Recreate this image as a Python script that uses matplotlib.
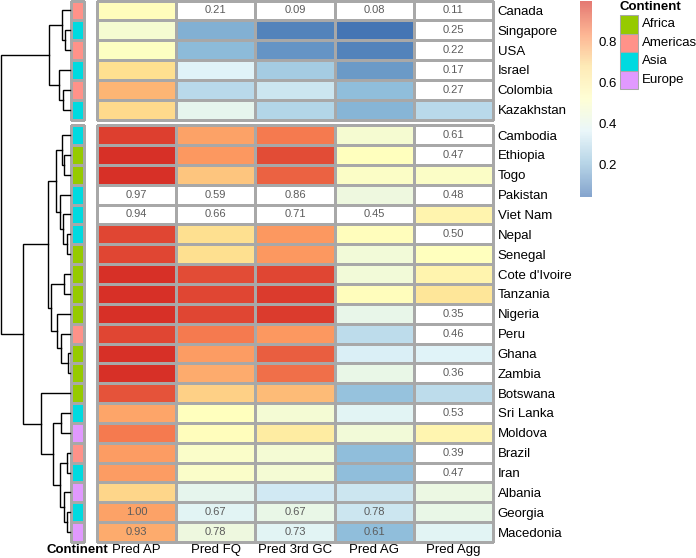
import numpy as np
import matplotlib
matplotlib.use("Agg")
import matplotlib.pyplot as plt
from matplotlib.colors import LinearSegmentedColormap, ListedColormap
from matplotlib.patches import Rectangle

plt.rcParams['font.family'] = ['Liberation Sans', 'DejaVu Sans']

nan = np.nan

countries = ["Canada", "Singapore", "USA", "Israel", "Colombia", "Kazakhstan",
             "Cambodia", "Ethiopia", "Togo", "Pakistan", "Viet Nam", "Nepal",
             "Senegal", "Cote d'Ivoire", "Tanzania", "Nigeria", "Peru", "Ghana",
             "Zambia", "Botswana", "Sri Lanka", "Moldova", "Brazil", "Iran",
             "Albania", "Georgia", "Macedonia"]
continent = ["Americas", "Asia", "Americas", "Asia", "Americas", "Asia",
             "Asia", "Africa", "Africa", "Asia", "Asia", "Asia",
             "Africa", "Africa", "Africa", "Africa", "Americas", "Africa",
             "Africa", "Africa", "Asia", "Europe", "Americas", "Asia",
             "Europe", "Asia", "Europe"]
columns = ["Pred AP", "Pred FQ", "Pred 3rd GC", "Pred AG", "Pred Agg"]

# colour values (nan = white cell)
pred_ap = [0.53, 0.47, 0.51, 0.68, 0.76, 0.69, 0.97, 1.00, 1.00, nan, nan, 0.96, 0.96,
           1.00, 1.00, 1.00, 0.96, 1.00, 1.00, 0.94, 0.79, 0.87, 0.81, 0.81, 0.70, 0.80, 0.78]
pred_fq = [nan, 0.17, 0.19, 0.36, 0.28, 0.39, 0.80, 0.82, 0.73, nan, nan, 0.68, 0.68,
           0.95, 0.96, 0.96, 0.87, 0.81, 0.78, 0.71, 0.52, 0.53, 0.49, 0.49, 0.39, 0.37, 0.43]
pred_gc = [nan, 0.07, 0.11, 0.24, 0.32, 0.27, 0.87, 0.95, 0.91, nan, nan, 0.82, 0.82,
           0.96, 0.98, 0.98, 0.82, 0.92, 0.89, 0.75, 0.46, 0.62, 0.46, 0.46, 0.33, 0.41, 0.37]
pred_ag = [nan, 0.04, 0.07, 0.12, 0.20, 0.18, 0.47, 0.52, 0.50, 0.43, nan, 0.53, 0.45,
           0.45, 0.53, 0.40, 0.29, 0.35, 0.41, 0.21, 0.37, 0.45, 0.20, 0.20, 0.32, 0.32, 0.20]
pred_agg = [nan, nan, nan, nan, nan, 0.28, nan, nan, 0.50, nan, 0.58, nan, 0.52,
            0.58, 0.65, nan, nan, 0.36, nan, 0.29, nan, 0.57, nan, nan, 0.42, 0.41, 0.37]

# numbers printed in cells
lab_ap = ["", "", "", "", "", "", "", "", "", "0.97", "0.94", "", "", "", "", "", "", "", "",
          "", "", "", "", "", "", "1.00", "0.93"]
lab_fq = ["0.21", "", "", "", "", "", "", "", "", "0.59", "0.66", "", "", "", "", "", "", "",
          "", "", "", "", "", "", "", "0.67", "0.78"]
lab_gc = ["0.09", "", "", "", "", "", "", "", "", "0.86", "0.71", "", "", "", "", "", "", "",
          "", "", "", "", "", "", "", "0.67", "0.73"]
lab_ag = ["0.08", "", "", "", "", "", "", "", "", "", "0.45", "", "", "", "", "", "", "", "",
          "", "", "", "", "", "", "0.78", "0.61"]
lab_agg = ["0.11", "0.25", "0.22", "0.17", "0.27", "", "0.61", "0.47", "", "0.48", "", "0.50",
           "", "", "", "0.35", "0.46", "", "0.36", "", "0.53", "", "0.39", "0.47", "", "", ""]

# row clustering: (left, right, height); ints refer to earlier merges
merges = [
    ("Singapore", "USA", 5.0),
    ("Canada", 0, 8.3),
    ("Colombia", "Kazakhstan", 7.0),
    ("Israel", 2, 11.0),
    (1, 3, 21.0),
    ("Ethiopia", "Togo", 5.7),
    ("Cambodia", 5, 8.3),
    ("Nepal", "Senegal", 3.3),
    ("Viet Nam", 7, 6.7),
    ("Pakistan", 8, 10.0),
    (6, 9, 14.3),
    ("Cote d'Ivoire", "Tanzania", 5.7),
    ("Ghana", "Zambia", 1.7),
    ("Peru", 12, 9.3),
    ("Nigeria", 13, 12.7),
    (11, 14, 19.3),
    (10, 15, 21.7),
    ("Sri Lanka", "Moldova", 9.0),
    ("Brazil", "Iran", 3.3),
    ("Georgia", "Macedonia", 3.0),
    ("Albania", 19, 6.0),
    (18, 20, 10.0),
    (17, 21, 17.3),
    ("Botswana", 22, 29.0),
    (16, 23, 46.7),
    (4, 24, 69.0),
]
n_top = 6

cont_colors = {"Africa": "#96CA00", "Americas": "#FF9289", "Asia": "#00DAE0", "Europe": "#E199FF"}

W, H = 696, 558
fig = plt.figure(figsize=(W / 100, H / 100), dpi=100)


def px_box(x0, y0, x1, y1):
    return [x0 / W, 1 - y1 / H, (x1 - x0) / W, (y1 - y0) / H]


cmap = LinearSegmentedColormap.from_list(
    "rdylbu", ["#4575B4", "#91BFDB", "#E0F3F8", "#FFFFBF", "#FEE090", "#FC8D59", "#D73027"])
cmap.set_bad("white")
vmin, vmax = 0.04, 1.0

gap = 0.28
n = len(countries)
total = n + gap
row_off = np.array([0.0 if i < n_top else gap for i in range(n)])
centers = np.arange(n) + 0.5 + row_off

values = np.ma.masked_invalid(np.array([pred_ap, pred_fq, pred_gc, pred_ag, pred_agg]).T)
labels = np.array([lab_ap, lab_fq, lab_gc, lab_ag, lab_agg]).T

grid = "#A8A8A8"
grid_lw = 0.75

# heatmap
ax = fig.add_axes(px_box(97, 0.5, 493, 542))
for lo, hi in [(0, n_top), (n_top, n)]:
    ys = np.arange(lo, hi + 1) + (0 if lo == 0 else gap)
    m = ax.pcolormesh(np.arange(6), ys, values[lo:hi], cmap=cmap, vmin=vmin, vmax=vmax,
                      edgecolors=grid, linewidth=grid_lw)
    m.set_clip_on(False)
for i in range(n):
    for j in range(5):
        if labels[i, j]:
            ax.text(j + 0.5, centers[i], labels[i, j], ha="center", va="center",
                    fontsize=8, color="#5C5C5C")
ax.set_xlim(0, 5)
ax.set_ylim(total, 0)
ax.set_yticks(centers)
ax.set_yticklabels(countries, fontsize=9.5)
ax.yaxis.tick_right()
ax.set_xticks(np.arange(5) + 0.5)
ax.set_xticklabels(columns, fontsize=9.5)
ax.tick_params(axis="y", length=0, pad=3.5)
ax.tick_params(axis="x", length=0, pad=1.5)
for s in ax.spines.values():
    s.set_visible(False)

# annotation column
ax_a = fig.add_axes(px_box(70.5, 0.5, 83.5, 542))
names = list(cont_colors)
codes = np.array([[names.index(c)] for c in continent], dtype=float)
acmap = ListedColormap([cont_colors[k] for k in names])
for lo, hi in [(0, n_top), (n_top, n)]:
    ys = np.arange(lo, hi + 1) + (0 if lo == 0 else gap)
    m = ax_a.pcolormesh([0, 1], ys, codes[lo:hi], cmap=acmap, vmin=-0.5, vmax=3.5,
                        edgecolors=grid, linewidth=grid_lw)
    m.set_clip_on(False)
ax_a.set_xlim(0, 1)
ax_a.set_ylim(total, 0)
ax_a.set_yticks([])
ax_a.set_xticks([0.5])
ax_a.set_xticklabels(["Continent"], fontsize=9.5, fontweight="bold")
ax_a.tick_params(length=0, pad=1.5)
for s in ax_a.spines.values():
    s.set_visible(False)

# dendrogram
ax_d = fig.add_axes(px_box(0, 0.5, 70, 542))
pos = {c: (centers[i], 0.0) for i, c in enumerate(countries)}
for k, (a, b, h) in enumerate(merges):
    ya, ha = pos[a]
    yb, hb = pos[b]
    ax_d.plot([ha, h, h, hb], [ya, ya, yb, yb], color="black", lw=1.0,
              solid_joinstyle="miter", clip_on=False)
    pos[k] = ((ya + yb) / 2, h)
ax_d.set_xlim(70, 0)
ax_d.set_ylim(total, 0)
ax_d.axis("off")

# colour bar
ax_c = fig.add_axes(px_box(580, 1, 592, 197))
grad = np.linspace(vmin, vmax, 100).reshape(-1, 1)
ax_c.imshow(grad, cmap=cmap, vmin=vmin, vmax=vmax, aspect="auto", origin="lower",
            extent=[0, 1, vmin, vmax], alpha=0.65)
ax_c.set_xticks([])
ax_c.yaxis.tick_right()
ax_c.set_yticks([0.2, 0.4, 0.6, 0.8])
ax_c.set_yticklabels(["0.2", "0.4", "0.6", "0.8"], fontsize=9.5)
ax_c.tick_params(length=0, pad=4.5)
for s in ax_c.spines.values():
    s.set_visible(False)

# continent legend
ax_l = fig.add_axes(px_box(619, 0, 696, 95))
ax_l.set_xlim(0, 77)
ax_l.set_ylim(95, 0)
ax_l.axis("off")
ax_l.text(0, 7, "Continent", fontsize=9.5, fontweight="bold", va="center", ha="left")
for k, name in enumerate(names):
    ax_l.add_patch(Rectangle((0.5, 15 + k * 18.5), 18.5, 18.5, facecolor=cont_colors[name],
                             edgecolor=grid, lw=grid_lw))
    ax_l.text(22.5, 15 + k * 18.5 + 9.25, name, fontsize=9.5, va="center", ha="left")

fig.savefig("out.png", dpi=100)
